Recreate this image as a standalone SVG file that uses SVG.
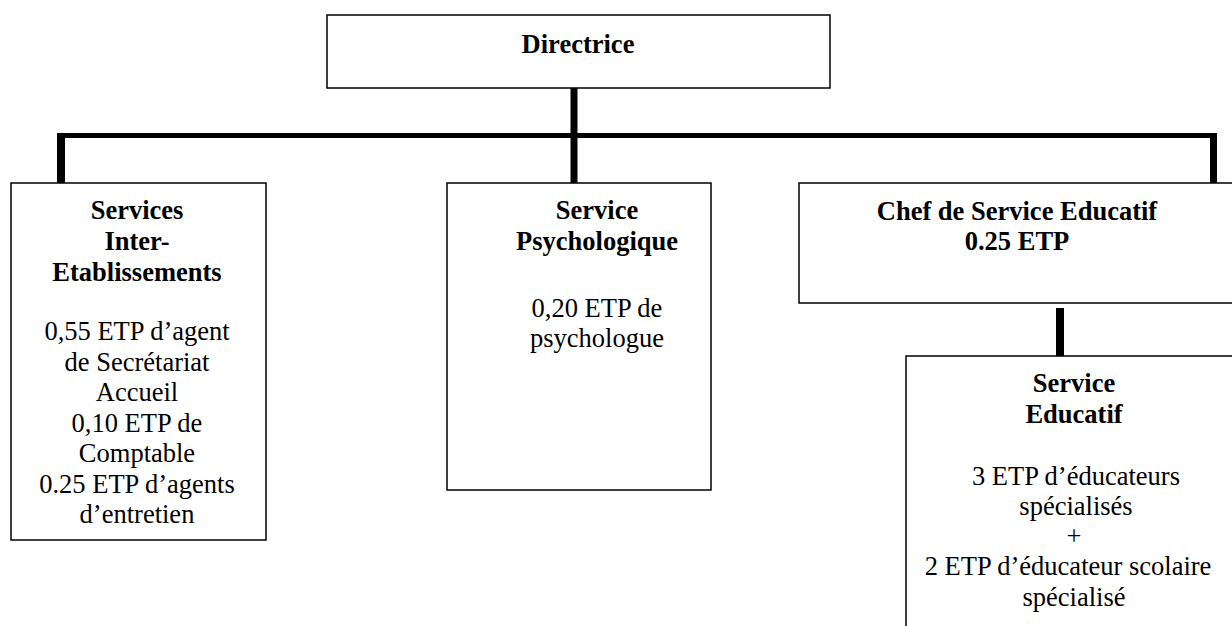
<svg xmlns="http://www.w3.org/2000/svg" width="1232" height="626" viewBox="0 0 1232 626">
<style>
.box{fill:#fff;stroke:#000;stroke-width:1.5}
.b{font-family:"Liberation Serif","Times New Roman",serif;font-size:26.5px;font-weight:bold;text-anchor:middle;fill:#000}
.r{font-family:"Liberation Serif","Times New Roman",serif;font-size:26.5px;text-anchor:middle;fill:#000}
.c{stroke:#000;fill:none}
</style>
<rect width="1232" height="626" fill="#fff"/>
<g id="connectors">
<line class="c" x1="574" y1="88" x2="574" y2="183" stroke-width="7"/>
<line class="c" x1="57" y1="135.5" x2="1217" y2="135.5" stroke-width="5"/>
<line class="c" x1="61" y1="133" x2="61" y2="183" stroke-width="8"/>
<line class="c" x1="1213.5" y1="133" x2="1213.5" y2="183" stroke-width="7"/>
<line class="c" x1="1060" y1="308" x2="1060" y2="356" stroke-width="8"/>
</g>
<g id="directrice">
<rect class="box" x="327" y="15" width="503" height="73"/>
<text class="b" x="578" y="53">Directrice</text>
</g>
<g id="services-inter">
<rect class="box" x="11" y="183" width="255" height="357"/>
<text class="b" x="137" y="219">Services</text>
<text class="b" x="137" y="250">Inter-</text>
<text class="b" x="137" y="281">Etablissements</text>
<text class="r" x="137" y="340">0,55 ETP d’agent</text>
<text class="r" x="137" y="371">de Secrétariat</text>
<text class="r" x="137" y="401">Accueil</text>
<text class="r" x="137" y="432">0,10 ETP de</text>
<text class="r" x="137" y="462">Comptable</text>
<text class="r" x="137" y="493">0.25 ETP d’agents</text>
<text class="r" x="137" y="523">d’entretien</text>
</g>
<g id="service-psy">
<rect class="box" x="447" y="183" width="264" height="307"/>
<text class="b" x="597" y="219">Service</text>
<text class="b" x="597" y="250">Psychologique</text>
<text class="r" x="597" y="317">0,20 ETP de</text>
<text class="r" x="597" y="347">psychologue</text>
</g>
<g id="chef-service">
<rect class="box" x="799" y="183" width="445" height="120"/>
<text class="b" x="1017" y="220">Chef de Service Educatif</text>
<text class="b" x="1017" y="250">0.25 ETP</text>
</g>
<g id="service-educatif">
<rect class="box" x="906" y="356" width="340" height="290"/>
<text class="b" x="1074" y="392">Service</text>
<text class="b" x="1074" y="423">Educatif</text>
<text class="r" x="1076" y="485">3 ETP d’éducateurs</text>
<text class="r" x="1076" y="515">spécialisés</text>
<text class="r" x="1074" y="545">+</text>
<text class="r" x="1068" y="575">2 ETP d’éducateur scolaire</text>
<text class="r" x="1074" y="606">spécialisé</text>
</g>
</svg>
